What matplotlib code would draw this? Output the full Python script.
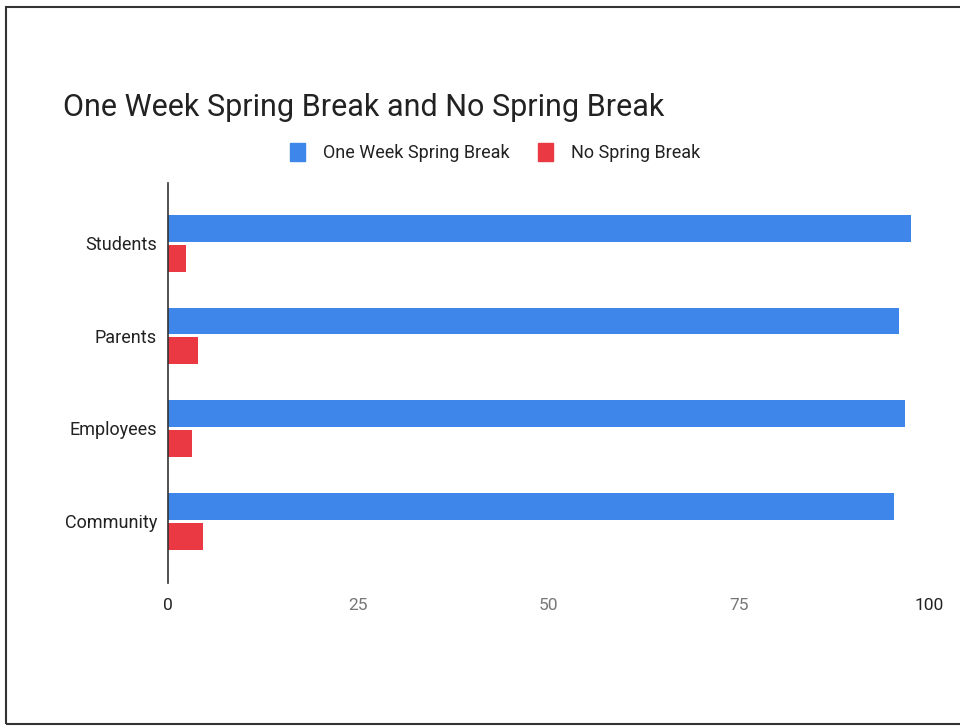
import matplotlib.pyplot as plt
import numpy as np
from matplotlib.patches import Rectangle, Patch

plt.rcParams['font.family'] = ['Roboto', 'DejaVu Sans']

categories = ['Students', 'Parents', 'Employees', 'Community']
one_week = [97.7, 96.0, 96.8, 95.4]
no_break = [2.3, 4.0, 3.2, 4.6]
x_ticks = [0, 25, 50, 75, 100]

blue = '#3f86ea'
red = '#ea3943'

fig = plt.figure(figsize=(9.6, 7.28), dpi=100)
ax = fig.add_axes([0.175, 0.1992, 0.7927, 0.5494])

y = np.arange(len(categories))
h = 0.29
ax.barh(y - 0.158, one_week, height=h, color=blue)
ax.barh(y + 0.165, no_break, height=h, color=red)

ax.set_xlim(0, 100)
ax.set_ylim(3.669, -0.647)
ax.set_yticks(y)
ax.set_yticklabels(categories, fontsize=13, color='#222222')
ax.set_xticks(x_ticks)
ax.set_xticklabels([str(t) for t in x_ticks], fontsize=12.5)
for lbl, t in zip(ax.get_xticklabels(), x_ticks):
    lbl.set_color('#222222' if t in (0, 100) else '#777777')
ax.tick_params(axis='both', length=0)
ax.tick_params(axis='x', pad=11)
ax.tick_params(axis='y', pad=8)

for s in ['top', 'right', 'bottom']:
    ax.spines[s].set_visible(False)
ax.spines['left'].set_color('#333333')
ax.spines['left'].set_linewidth(1.2)

fig.text(63 / 960, 1 - 107 / 728, 'One Week Spring Break and No Spring Break',
         fontsize=22, color='#222222', ha='left', va='center')

handles = [Patch(color=blue, label='One Week Spring Break'),
           Patch(color=red, label='No Spring Break')]
fig.legend(handles=handles, loc='center', bbox_to_anchor=(0.516, 0.79), ncol=2,
           frameon=False, fontsize=13, handlelength=0.8, handleheight=1.1,
           handletextpad=1.0, columnspacing=1.6, labelcolor='#222222')

# scanned page frame
fig.patches.append(Rectangle((6 / 960, 4 / 728), 1.2, 1 - 11 / 728,
                             transform=fig.transFigure, fill=False,
                             edgecolor='#333333', linewidth=1.5))

fig.savefig('out.png', dpi=100)
